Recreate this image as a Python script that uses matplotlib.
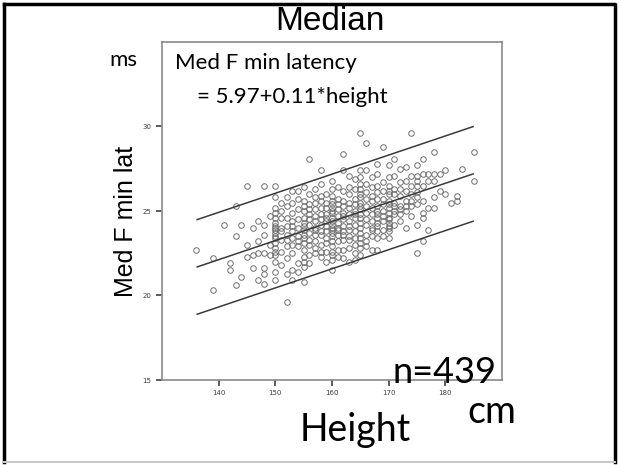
import matplotlib
matplotlib.use('Agg')
import matplotlib.pyplot as plt
from matplotlib.lines import Line2D

# heights (cm) grouped by column, latency values (ms)
h_short = [136, 139, 139, 141, 142, 142, 143, 143, 143, 144, 144,
           145, 145, 145, 146, 146, 146, 147, 147, 147, 147,
           148, 148, 148, 148, 148, 148, 148, 149, 149, 149]
lat_short = [22.7, 20.3, 22.2, 24.2, 21.9, 21.5, 23.5, 20.6, 25.3, 21.1, 24.2,
             22.3, 26.5, 23.0, 21.6, 22.4, 24.0, 20.9, 22.5, 24.4, 23.2,
             20.7, 21.6, 21.3, 22.5, 24.2, 26.5, 23.6, 22.4, 23.0, 24.7]

cols_mid = {
    150: [20.9, 21.4, 22.4, 22.8, 23.1, 23.4, 23.7, 24.0, 24.3, 24.6, 24.9, 25.8, 26.5, 22.0, 23.9,
          23.5, 24.1, 22.6, 25.2],
    151: [25.0, 24.6, 22.6, 23.3, 21.8, 24.0, 23.8, 25.5],
    152: [19.6, 21.3, 22.9, 23.6, 24.1, 25.3, 22.2, 23.3, 24.6, 25.8],
    153: [20.9, 21.5, 24.9, 26.2, 23.0, 23.8, 24.4, 22.5, 23.4, 25.5, 24.1],
    154: [21.4, 26.2, 22.9, 23.5, 24.5, 25.1, 21.9, 24.0, 23.2, 25.7],
    155: [20.8, 26.4, 22.3, 23.1, 23.6, 24.1, 24.6, 25.0, 25.6, 21.7, 22.7, 23.9,
          24.3, 23.4, 25.3, 22.0],
    156: [28.1, 22.4, 23.3, 24.2, 24.8, 25.4, 23.7, 26.0, 21.9, 24.5, 23.0, 25.1],
    157: [22.8, 23.6, 24.4, 25.1, 25.8, 23.2, 24.0, 26.3, 24.7, 23.9, 25.5, 22.5],
    158: [27.4, 22.3, 23.0, 23.8, 24.5, 25.2, 25.9, 24.2, 22.6, 26.6, 24.8, 23.6, 25.6],
    159: [22.0, 23.4, 24.1, 24.8, 25.5, 23.1, 26.0, 24.4, 24.6, 23.8, 25.2, 22.6],
    160: [26.8, 22.1, 22.6, 23.2, 23.7, 24.2, 24.6, 25.0, 25.4, 25.9, 24.0, 23.5, 24.9, 21.5, 26.3, 22.9,
          24.4, 23.9, 25.2, 22.4, 25.6],
    161: [22.7, 23.6, 24.3, 25.1, 25.7, 24.7, 26.4, 23.2, 24.0, 25.4, 23.9, 22.3],
    162: [28.4, 27.4, 22.2, 23.3, 24.1, 24.9, 25.6, 26.2, 24.5, 23.8, 24.7, 25.3, 23.6, 22.7],
    163: [22.0, 22.8, 23.5, 24.4, 25.2, 26.0, 24.8, 27.1, 23.9, 24.1, 25.5, 23.3, 26.4],
    164: [22.5, 23.0, 23.4, 24.2, 25.0, 25.7, 26.3, 24.6, 26.9, 24.8, 23.8, 25.4, 22.1],
    165: [29.6, 22.8, 23.4, 24.0, 24.6, 25.1, 25.5, 26.0, 26.6, 27.0, 24.3, 25.3, 23.7, 27.4,
          24.8, 25.8, 23.1, 26.3, 22.4],
    166: [29.0, 27.4, 23.6, 24.5, 25.3, 26.1, 24.9, 23.2, 24.2, 25.7, 26.6, 22.9],
    167: [22.7, 24.0, 24.8, 25.6, 26.4, 25.2, 23.5, 24.4, 25.9, 23.9, 27.0],
    168: [27.8, 22.7, 23.4, 23.8, 24.1, 24.3, 25.0, 25.7, 26.5, 24.6, 25.3, 24.8, 26.1, 27.2],
    169: [28.8, 24.4, 25.4, 26.2, 23.9, 25.0, 24.7, 25.7, 26.7, 23.5],
}

cols_tall = {
    170: [24.0, 24.1, 24.3, 24.6, 25.2, 25.6, 26.0, 27.0, 27.7, 23.8, 24.9, 26.5, 25.4, 24.5, 26.2, 23.4],
    171: [28.1, 27.1, 24.8, 25.5, 26.3, 25.0, 24.2, 26.0, 25.3],
    172: [27.5, 25.3, 26.7, 24.4, 25.9, 26.3, 25.1, 24.8],
    173: [27.6, 26.8, 25.0, 24.0, 25.6, 25.3, 26.2],
    174: [29.6, 27.1, 25.3, 26.0, 24.7, 26.5, 25.6],
    175: [27.7, 27.1, 26.1, 25.8, 24.2, 22.5, 26.8, 26.5, 25.4],
    176: [28.1, 27.2, 26.5, 24.9, 24.6, 23.2, 25.6],
    177: [27.2, 25.2, 26.8, 23.9],
    178: [28.5, 27.2, 26.8, 25.2, 25.8],
    179: [27.2, 26.2],
    180: [27.4, 26.0],
    181: [25.5],
    182: [25.9, 25.6],
    183: [27.5],
    185: [28.5, 26.8],
}

# fitted line and prediction band as drawn
fit_x = [136.2, 184.9]
fit_intercept = 6.3
fit_slope = 0.113
band = 2.8

height = list(h_short)
latency = list(lat_short)
for cols in (cols_mid, cols_tall):
    for h, vals in cols.items():
        height += [h] * len(vals)
        latency += vals

W, H = 620, 465
fig = plt.figure(figsize=(6.2, 4.65), dpi=100)
ax = fig.add_axes([162/W, 85/H, 340/W, 338/H])

ax.plot(height, latency, 'o', ms=4, mfc='none', mec='#6e6e6e', mew=0.7)

fit_y = [fit_intercept + fit_slope * x for x in fit_x]
for off in (band, 0, -band):
    ax.plot(fit_x, [y + off for y in fit_y], color='#3a3a3a', lw=1.1)

ax.set_xlim(130, 190)
ax.set_ylim(15, 35)
ax.set_xticks([140, 150, 160, 170, 180])
ax.set_yticks([15, 20, 25, 30])
ax.tick_params(labelsize=5, colors='#404040', length=4, width=1.2)
for s in ax.spines.values():
    s.set_color('#8a8a8a')
    s.set_linewidth(1.2)

fig.text(126/W, 1 - 221/H, 'Med F min lat', fontsize=18, family='Liberation Sans',
         rotation=90, ha='center', va='center')
fig.text(330/W, 1 - 21/H, 'Median', fontsize=24, family='Liberation Sans',
         ha='center', va='center')
fig.text(109/W, 1 - 60/H, 'ms', fontsize=16, family='Lato', va='center')
fig.text(175/W, 1 - 63/H, 'Med F min latency', fontsize=16, family='Lato', va='center')
fig.text(197/W, 1 - 97/H, '= 5.97+0.11*height', fontsize=16, family='Lato', va='center')
fig.text(444/W, 1 - 383/H, 'n=439', fontsize=26, family='Lato', ha='center', va='baseline')
fig.text(355/W, 1 - 441/H, 'Height', fontsize=27, family='Lato', ha='center', va='baseline')
fig.text(492/W, 1 - 423/H, 'cm', fontsize=27, family='Lato', ha='center', va='baseline')

# outer frame
fig.add_artist(Line2D([4/W, 615/W, 615/W], [461/H, 461/H, 3/H],
                      color='black', lw=2.5, transform=fig.transFigure))
fig.add_artist(Line2D([4/W, 4/W], [461/H, 3/H],
                      color='black', lw=2.5, transform=fig.transFigure))
fig.add_artist(Line2D([4/W, 615/W], [3/H, 3/H],
                      color='#c8c8c8', lw=1.5, transform=fig.transFigure))

fig.savefig('out.png', dpi=100)
